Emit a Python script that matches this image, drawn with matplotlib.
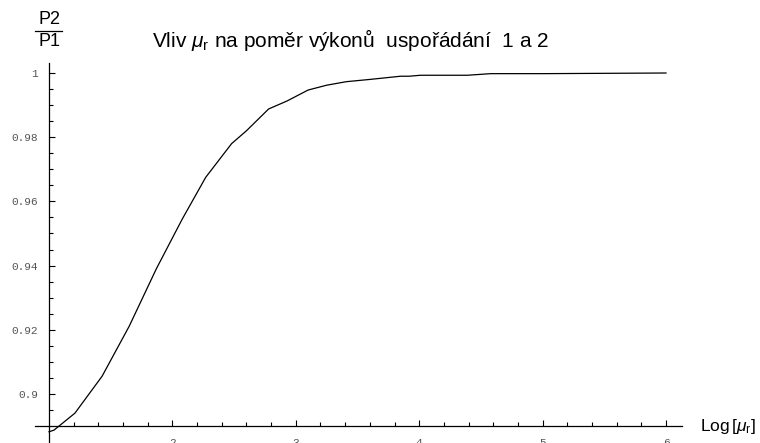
import numpy as np
import matplotlib.pyplot as plt
from matplotlib.lines import Line2D

plt.rcParams['mathtext.fontset'] = 'custom'
plt.rcParams['mathtext.rm'] = 'Liberation Sans'
plt.rcParams['mathtext.it'] = 'Liberation Sans:italic'

# Data (log10 mu_r vs P2/P1)
log_mu = [1.0, 1.04, 1.21, 1.43, 1.65, 1.87, 2.08, 2.27, 2.48, 2.60, 2.78,
          2.93, 3.10, 3.25, 3.41, 3.60, 3.85, 3.92, 4.01, 4.39, 4.58, 5.0, 6.0]
ratio = [0.8882, 0.8887, 0.894, 0.9055, 0.9211, 0.939, 0.9545, 0.9675, 0.978,
         0.982, 0.9888, 0.9913, 0.9947, 0.9962, 0.9973, 0.998, 0.999, 0.999,
         0.9993, 0.9993, 0.9998, 0.9998, 1.0]

x_major = [2, 3, 4, 5, 6]
y_major = [0.9, 0.92, 0.94, 0.96, 0.98, 1.0]
y_labels = ['0.9', '0.92', '0.94', '0.96', '0.98', '1']

W, H = 760, 443
fig = plt.figure(figsize=(W / 100, H / 100), dpi=100)
ax = fig.add_axes([0, 0, 1, 1])
ax.patch.set_alpha(0)

# pixel mapping: x=1 -> 49px, 123.4 px/unit ; y=0.89 -> 426px, 3209 px/unit
sx, sy = 123.4, 3209.0
ax.set_xlim(1 - 49 / sx, 1 + (W - 49) / sx)
ax.set_ylim(0.89 - (H - 426) / sy, 0.89 + 426 / sy)

ax.plot(log_mu, ratio, color='black', lw=0.9)

for s in ['top', 'right']:
    ax.spines[s].set_visible(False)
ax.spines['left'].set_position(('data', 1.0))
ax.spines['bottom'].set_position(('data', 0.89))
ax.spines['left'].set_bounds(0.89 - (H - 426) / sy, 0.89 + (426 - 63) / sy)
ax.spines['bottom'].set_bounds(1 - (49 - 35) / sx, 1 + (682 - 49) / sx)
ax.spines['left'].set_linewidth(0.9)
ax.spines['bottom'].set_linewidth(0.9)

ax.set_xticks(x_major)
ax.set_xticks([v for v in np.arange(1.2, 6.01, 0.2) if abs(v - round(v)) > 1e-6], minor=True)
ax.set_yticks(y_major)
ax.set_yticklabels(y_labels)
ax.set_yticks([v for v in np.arange(0.895, 1.0001, 0.005) if abs(v * 50 - round(v * 50)) > 1e-6], minor=True)

ax.tick_params(which='both', direction='in', width=0.8, colors='black',
               labelcolor='#555555', labelsize=8)
ax.tick_params(which='major', length=4)
ax.tick_params(which='minor', length=3)
ax.tick_params(axis='x', pad=9)
ax.tick_params(axis='y', pad=8)
for lab in ax.get_xticklabels() + ax.get_yticklabels():
    lab.set_family('Liberation Mono')

# y label as a fraction P2 / P1
fig.text(49 / W, 1 - 19 / H, 'P2', ha='center', va='center',
         family='Liberation Sans', fontsize=13)
fig.text(49 / W, 1 - 41 / H, 'P1', ha='center', va='center',
         family='Liberation Sans', fontsize=13)
fig.add_artist(Line2D([35 / W, 62 / W], [1 - 30.5 / H, 1 - 30.5 / H],
                      color='black', lw=0.9))

# title
fig.text(152 / W, 1 - 47 / H,
         r'Vliv $\mu_{\mathrm{r}}$ na poměr výkonů  uspořádání  1 a 2',
         ha='left', va='baseline', family='Liberation Sans', fontsize=15)

# x label
fig.text(700 / W, 1 - 427 / H, r'Log$\,$[$\mu_{\mathrm{r}}$]',
         ha='left', va='center', family='Liberation Sans', fontsize=12.5)

fig.savefig('out.png', dpi=100)
